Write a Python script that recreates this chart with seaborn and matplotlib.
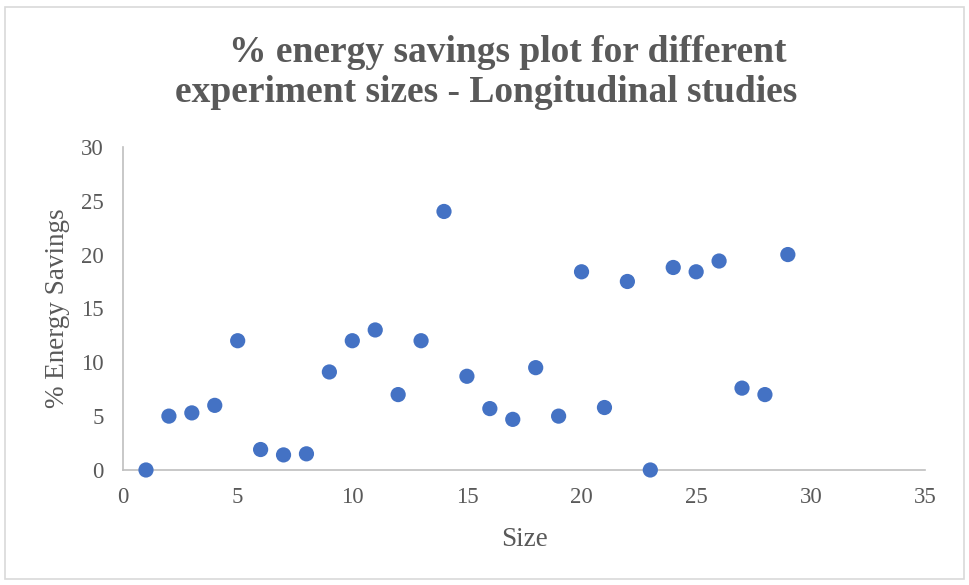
import matplotlib
matplotlib.use("Agg")
import matplotlib.pyplot as plt
import seaborn as sns
import pandas as pd
from matplotlib.patches import Rectangle

sizes = list(range(1, 30))
savings = [0, 5.0, 5.3, 6.0, 12.0, 1.9, 1.4, 1.5, 9.1, 12.0,
           13.0, 7.0, 12.0, 24.0, 8.7, 5.7, 4.7, 9.5, 5.0, 18.4,
           5.8, 17.5, 0, 18.8, 18.4, 19.4, 7.6, 7.0, 20.0]
x_ticks = [0, 5, 10, 15, 20, 25, 30, 35]
y_ticks = [0, 5, 10, 15, 20, 25, 30]
title_lines = ["% energy savings plot for different",
               "experiment sizes - Longitudinal studies"]

df = pd.DataFrame({"Size": sizes, "Savings": savings})

sns.set_style("white")
plt.rcParams['font.family'] = ['Liberation Serif', 'DejaVu Serif']
gray = "#595959"

fig = plt.figure(figsize=(9.69, 5.85), dpi=100)
ax = fig.add_axes([0.127, 0.1966, 0.828, 0.5524])
sns.scatterplot(data=df, x="Size", y="Savings", ax=ax, s=120, color="#4472C4",
                edgecolor="none", zorder=3, clip_on=False)
ax.set_xlim(0, 35)
ax.set_ylim(0, 30)
ax.set_xticks(x_ticks)
ax.set_yticks(y_ticks)
ax.tick_params(axis='both', labelsize=16.5, colors=gray, length=0)
ax.tick_params(axis='y', pad=14)
ax.tick_params(axis='x', pad=12)
for sp in ["top", "right"]:
    ax.spines[sp].set_visible(False)
for sp in ["left", "bottom"]:
    ax.spines[sp].set_color("#BFBFBF")
    ax.spines[sp].set_linewidth(1.2)
ax.set_xlabel("Size", fontsize=19.5, color=gray, labelpad=14)
ax.set_ylabel("% Energy Savings", fontsize=19.5, color=gray, labelpad=8)
fig.text(0.5235, 1 - 62 / 585, title_lines[0], ha="center", va="baseline",
         fontsize=27, fontweight="bold", color=gray)
fig.text(0.5015, 1 - 102 / 585, title_lines[1], ha="center", va="baseline",
         fontsize=27, fontweight="bold", color=gray)
fig.patches.append(Rectangle((0.005, 0.01), 0.99, 0.978, transform=fig.transFigure,
                             fill=False, edgecolor="#D9D9D9", linewidth=1.2))
fig.savefig("out.png", dpi=100)
